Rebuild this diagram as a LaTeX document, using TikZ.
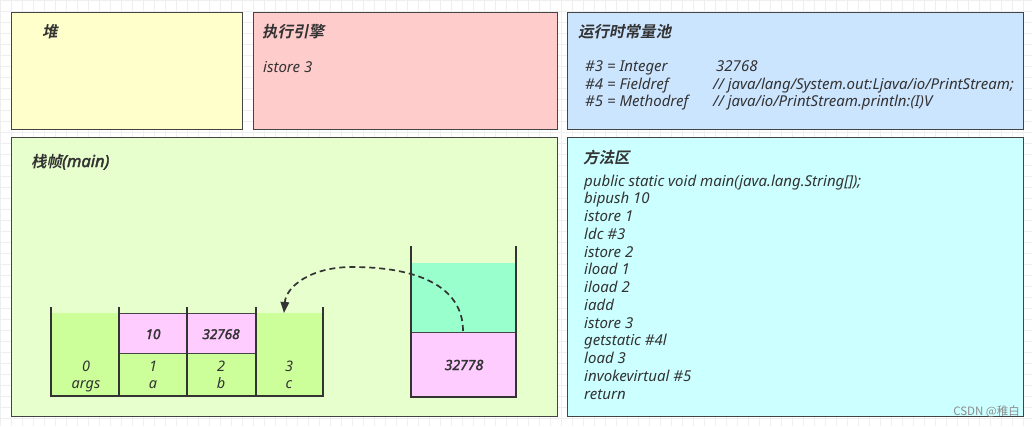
\documentclass[tikz,border=0pt]{standalone}
\usepackage{fontspec}
\setmainfont{Noto Sans}
\newfontfamily\bitf{Noto Sans}[ItalicFeatures={FakeBold=2.2}]
\newfontfamily\cjkb{Noto Sans CJK SC Bold}[FakeSlant=0.2]
\newfontfamily\cjkr{Noto Sans CJK SC}
\usetikzlibrary{arrows.meta}
\definecolor{heapc}{HTML}{FFFFCC}
\definecolor{enginec}{HTML}{FFCCCC}
\definecolor{poolc}{HTML}{CCE5FF}
\definecolor{framec}{HTML}{E6FFCC}
\definecolor{methodc}{HTML}{CCFFFF}
\definecolor{cellg}{HTML}{CCFF99}
\definecolor{cellp}{HTML}{FFCCFF}
\definecolor{cellt}{HTML}{99FFCC}
\definecolor{edgec}{HTML}{444444}
\definecolor{txtc}{HTML}{333333}
\definecolor{gridc}{HTML}{EFEFEF}
\tikzset{
  area/.style={draw=edgec, line width=0.9pt, anchor=north west, inner sep=0pt},
  ttl/.style={anchor=base west, inner sep=0pt, text=txtc, font=\fontsize{15.5}{18}\selectfont\cjkb},
  txt/.style={anchor=base west, inner sep=0pt, text=txtc, font=\fontsize{15}{17.75}\selectfont\itshape},
  ctxt/.style={anchor=base, inner sep=0pt, text=txtc, font=\fontsize{14.5}{17.75}\selectfont\itshape},
  btxt/.style={anchor=base, inner sep=0pt, text=txtc, font=\fontsize{13.5}{17.75}\selectfont\bitf\itshape},
  wall/.style={draw=txtc, line width=1.8pt},
  thin/.style={draw=edgec, line width=0.8pt},
  flow/.style={draw=txtc, line width=1.7pt, dash pattern=on 6pt off 4pt, -{Triangle[length=11pt,width=8.5pt]}},
}
\begin{document}
\begin{tikzpicture}[x=1pt,y=-1pt]
\useasboundingbox (0,0) rectangle (1032,426);
\fill[white] (0,0) rectangle (1032,426);
\draw[gridc, line width=0.5pt, step=11pt] (0,0) grid (1032,426);
% areas
\node[area, fill=heapc, minimum width=231pt, minimum height=117pt] (heap) at (11,12) {};
\node[area, fill=enginec, minimum width=304pt, minimum height=117pt] (engine) at (253,12) {};
\node[area, fill=poolc, minimum width=456pt, minimum height=117pt] (pool) at (567,12) {};
\node[area, fill=framec, minimum width=546pt, minimum height=279pt] (frame) at (11,137) {};
\node[area, fill=methodc, minimum width=456pt, minimum height=279pt] (method) at (567,137) {};
% titles
\node[ttl] (theap) at (42,37) {堆};
\node[ttl] (tengine) at (262,37) {执行引擎};
\node[ttl] (tpool) at (578,37) {运行时常量池};
\node[ttl] (tframe) at (31,167) {栈帧{\fontsize{16.5}{18}\selectfont\bitf\itshape (main)}};
\node[ttl] (tmethod) at (583,163) {方法区};
% engine
\node[txt] (cur) at (263,72) {istore 3};
% pool
\node[txt] (p3) at (585,71) {\#3 = Integer};
\node[txt] (p3v) at (716,71) {32768};
\node[txt] (p4) at (585,89) {\#4 = Fieldref};
\node[txt] (p4v) at (713,89) {// java/lang/System.out:Ljava/io/PrintStream;};
\node[txt] (p5) at (585,106) {\#5 = Methodref};
\node[txt] (p5v) at (713,106) {// java/io/PrintStream.println:(I)V};
% method area
\foreach \t [count=\i] in {{public static void main(java.lang.String[]);},{bipush 10},{istore 1},{ldc \#3},{istore 2},{iload 1},{iload 2},{iadd},{istore 3},{getstatic \#4l},{load 3},{invokevirtual \#5},{return}}
  \node[txt] (m\i) at (584,{186+17.75*(\i-1)}) {\t};
% local variable table
\fill[cellg] (51,313) rectangle (323,396);
\node[thin, fill=cellp, anchor=north west, minimum width=68pt, minimum height=40pt, inner sep=0pt] (v1) at (119,313) {};
\node[thin, fill=cellp, anchor=north west, minimum width=69pt, minimum height=40pt, inner sep=0pt] (v2) at (187,313) {};
\node[btxt] (v1t) at (153,339) {10};
\node[btxt] (v2t) at (221,339) {32768};
\node[ctxt] (l0) at (86,371) {0};
\node[ctxt] (l0n) at (86,388) {args};
\node[ctxt] (l1) at (153,371) {1};
\node[ctxt] (l1n) at (153,388) {a};
\node[ctxt] (l2) at (221,371) {2};
\node[ctxt] (l2n) at (221,388) {b};
\node[ctxt] (l3) at (289,371) {3};
\node[ctxt] (l3n) at (289,388) {c};
\draw[wall] (51,307) -- (51,396) -- (323,396) -- (323,307);
\draw[wall] (119,307) -- (119,396);
\draw[wall] (187,307) -- (187,396);
\draw[wall] (256,307) -- (256,396);
% operand stack
\fill[cellt] (411,263) rectangle (516,332);
\node[thin, fill=cellp, anchor=north west, minimum width=105pt, minimum height=65pt, inner sep=0pt] (top) at (411,332) {};
\node[btxt, font=\fontsize{14}{17}\selectfont\bitf\itshape] (topt) at (464,370) {32778};
\draw[wall] (411,246) -- (411,397) -- (516,397) -- (516,246);
% arrow
\coordinate (src) at (463,331);
\coordinate (dst) at (284,313);
\draw[flow] (src) .. controls (463,285) and (415,267) .. (352,267) .. controls (310,267) and (286,287) .. (dst);
% watermark
\node[anchor=base east, inner sep=0pt, text=black!45, font=\fontsize{11.5}{13}\selectfont\cjkr] (wm) at (1020,415) {CSDN @稚白};
\end{tikzpicture}
\end{document}
